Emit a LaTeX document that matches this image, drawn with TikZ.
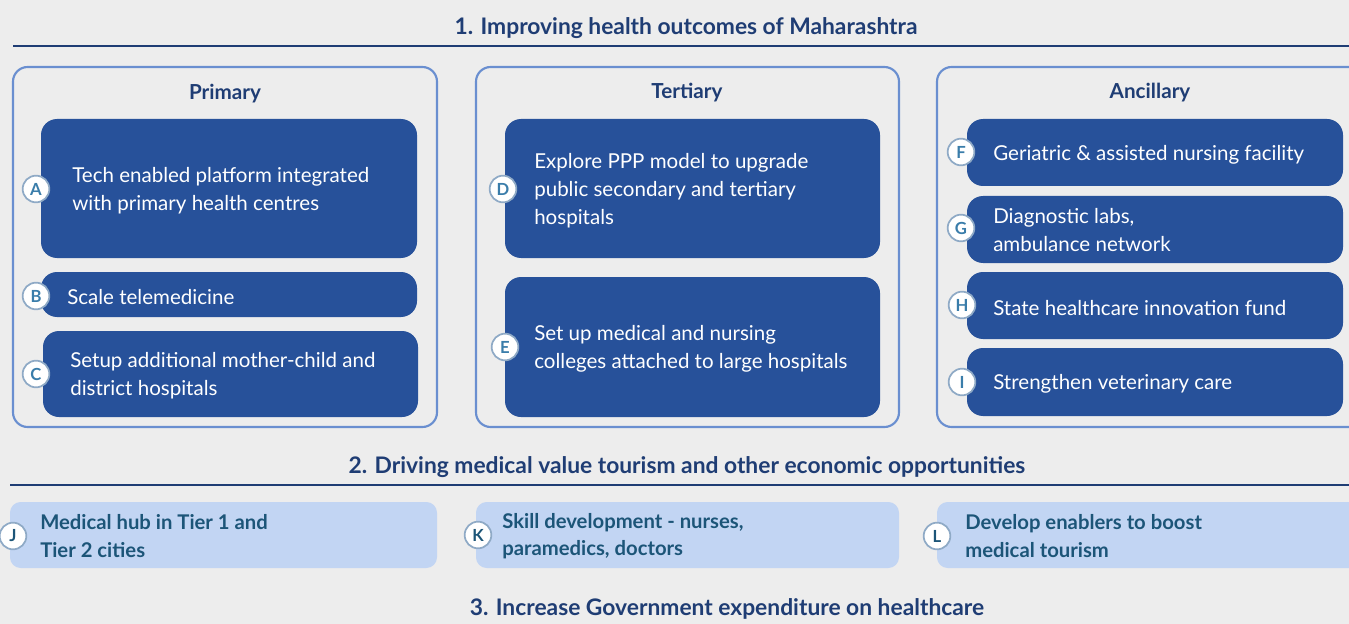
\documentclass[tikz,border=0pt]{standalone}
\usepackage{fontspec}
\setmainfont{Lato}
\definecolor{bgc}{HTML}{EDEDED}
\definecolor{navy}{HTML}{1F3D74}
\definecolor{darkbox}{HTML}{27519A}
\definecolor{panelc}{HTML}{6A8FD0}
\definecolor{lightbox}{HTML}{C2D5F3}
\definecolor{tealtxt}{HTML}{1C5578}
\definecolor{circb}{HTML}{8FAAC6}
\definecolor{letterc}{HTML}{3A7DAA}
\begin{document}
\begin{tikzpicture}[x=0.75pt,y=-0.75pt,
  panel/.style={draw=panelc,line width=1.6pt,rounded corners=11pt,minimum width=318pt,minimum height=270pt,inner sep=0pt},
  dbox/.style={fill=darkbox,rounded corners=12pt,minimum width=282pt,inner sep=0pt},
  lbox/.style={fill=lightbox,rounded corners=8pt,minimum height=49.5pt,inner sep=0pt},
  badge/.style={circle,fill=white,draw=circb,line width=1.3pt,minimum size=20pt,inner sep=0pt,font=\bfseries\fontsize{12.5}{12.5}\selectfont,text=letterc},
  wtxt/.style={anchor=west,align=left,text=white,inner sep=0pt,font=\fontsize{15.4}{21}\selectfont},
  ltxt/.style={anchor=west,align=left,text=tealtxt,inner sep=0pt,font=\bfseries\fontsize{15.2}{20.5}\selectfont},
  ttl/.style={text=navy,inner sep=0pt,font=\bfseries\fontsize{17.1}{19}\selectfont},
  hdr/.style={text=navy,inner sep=0pt,font=\bfseries\fontsize{15.5}{17}\selectfont},
  rule/.style={draw=navy,line width=2.2pt}]
\useasboundingbox (0,0) rectangle (1349,624);
\fill[bgc] (0,0) rectangle (1349,624);
\clip (0,0) rectangle (1349,624);

% section 1
\node[ttl] (t1) at (686,28) {1. Improving health outcomes of Maharashtra};
\coordinate (r1a) at (13,46);
\coordinate (r1b) at (1349,46);
\draw[rule] (r1a) -- (r1b);

\node[panel] (p1) at (225,247) {};
\node[panel,minimum width=317.25pt] (p2) at (687.5,247) {};
\node[panel,minimum width=321pt] (p3) at (1151,247) {};
\node[hdr] (h1) at (225,94) {Primary};
\node[hdr] (h2) at (687,93) {Tertiary};
\node[hdr] (h3) at (1150,93) {Ancillary};

% primary
\node[dbox,minimum height=104.25pt] (bA) at (229,188.5) {};
\node[dbox,minimum height=33.75pt] (bB) at (229,294.5) {};
\node[dbox,minimum width=281.25pt,minimum height=64.5pt] (bC) at (230.5,374) {};
\node[wtxt] (tA) at (72,191) {Tech enabled platform integrated\\with primary health centres};
\node[wtxt] (tB) at (67,297) {Scale telemedicine};
\node[wtxt] (tC) at (70,375.5) {Setup additional mother-child and\\district hospitals};
\node[badge] (cA) at (36,189) {A};
\node[badge] (cB) at (36,296) {B};
\node[badge] (cC) at (36,374) {C};

% tertiary
\node[dbox,minimum width=281.25pt,minimum height=104.25pt] (bD) at (692.5,188.5) {};
\node[dbox,minimum width=281.25pt,minimum height=105pt] (bE) at (692.5,347) {};
\node[wtxt] (tD) at (534,190.5) {Explore PPP model to upgrade\\public secondary and tertiary\\hospitals};
\node[wtxt] (tE) at (534,348.5) {Set up medical and nursing\\colleges attached to large hospitals};
\node[badge] (cD) at (503,189) {D};
\node[badge] (cE) at (505,347) {E};

% ancillary
\node[dbox,minimum height=50.25pt] (bF) at (1155,152.5) {};
\node[dbox,minimum height=50.25pt] (bG) at (1155,229.5) {};
\node[dbox,minimum height=50.25pt] (bH) at (1155,305.5) {};
\node[dbox,minimum height=51pt] (bI) at (1155,382) {};
\node[wtxt] (tF) at (993,155) {Geriatric \& assisted nursing facility};
\node[wtxt] (tG) at (993,230.5) {Diagnostic labs,\\ambulance network};
\node[wtxt] (tH) at (993,308) {State healthcare innovation fund};
\node[wtxt] (tI) at (993,384) {Strengthen veterinary care};
\node[badge] (cF) at (961,152) {F};
\node[badge] (cG) at (961,228) {G};
\node[badge] (cH) at (962,305) {H};
\node[badge] (cI) at (962,382) {I};

% section 2
\node[ttl] (t2) at (687,467) {2. Driving medical value tourism and other economic opportunities};
\coordinate (r2a) at (10,485);
\coordinate (r2b) at (1349,485);
\draw[rule] (r2a) -- (r2b);

\node[lbox,minimum width=320.25pt] (bJ) at (223.5,535) {};
\node[lbox,minimum width=317.25pt] (bK) at (687.5,535) {};
\node[lbox,minimum width=317.25pt] (bL) at (1148.5,535) {};
\node[ltxt] (tJ) at (40,536) {Medical hub in Tier 1 and\\Tier 2 cities};
\node[ltxt] (tK) at (502,536) {Skill development - nurses,\\paramedics, doctors};
\node[ltxt] (tL) at (965,536) {Develop enablers to boost\\medical tourism};
\node[badge,text=tealtxt] (cJ) at (13,536) {J};
\node[badge,text=tealtxt] (cK) at (478,535) {K};
\node[badge,text=tealtxt] (cL) at (937,536) {L};

% section 3
\node[ttl] (t3) at (727,609) {3. Increase Government expenditure on healthcare};
\end{tikzpicture}
\end{document}
